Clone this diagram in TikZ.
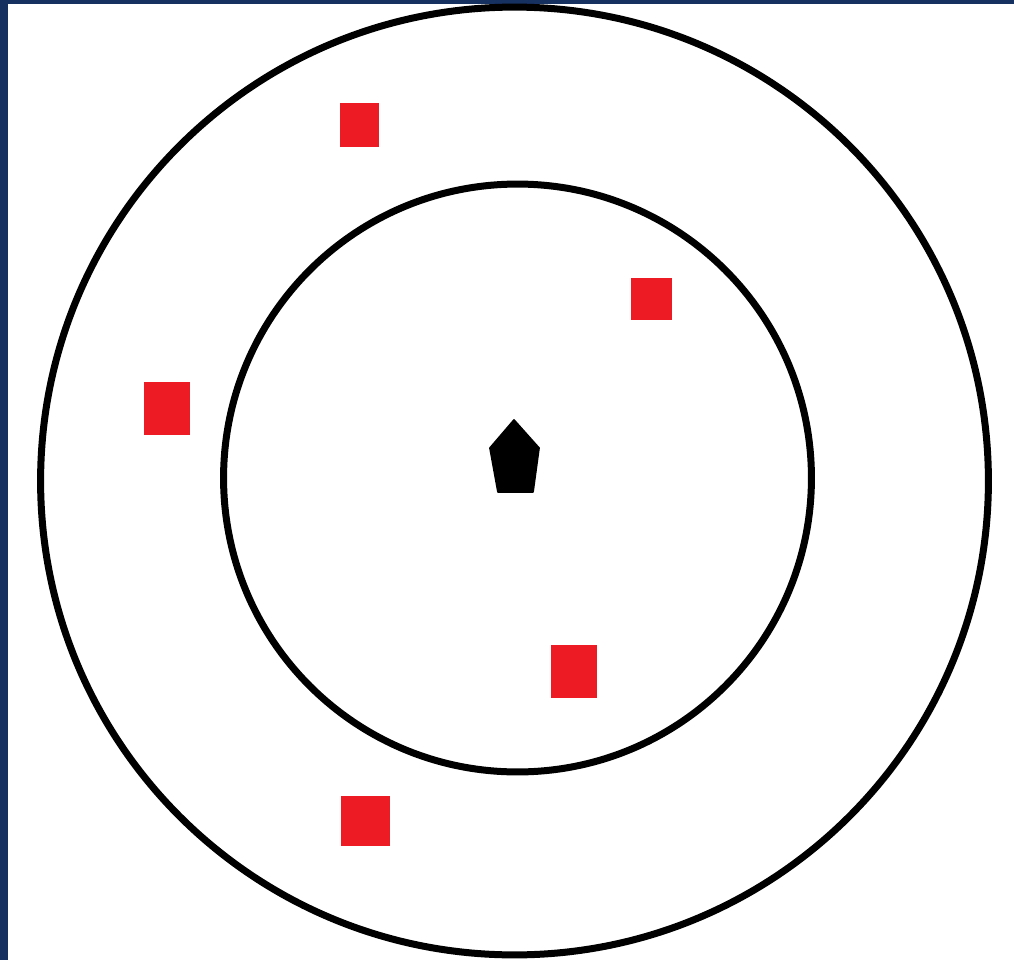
\documentclass[tikz,border=0pt]{standalone}
\usepackage{xcolor}
\usepackage{tikz}
\usetikzlibrary{positioning}

\definecolor{frameblue}{RGB}{22,48,95}
\definecolor{targetred}{RGB}{237,28,36}

\begin{document}
\begin{tikzpicture}[x=0.02cm, y=-0.02cm]
	% Styles
	\tikzstyle{ring} = [draw=black, line width=0.14cm]
	\tikzstyle{target} = [fill=targetred]
	\tikzstyle{robot} = [fill=black, line join=round, draw=black, line width=1pt]

	% Background
	\fill[frameblue] (0,0) rectangle (1014,960);
	\fill[white] (8,4) rectangle (1014,960);
	\useasboundingbox (0,0) rectangle (1014,960);

	% Rings
	\coordinate (outer) at (514.5,481);
	\coordinate (inner) at (517.5,478);
	\draw [ring] (outer) circle [radius=9.48cm];
	\draw [ring] (inner) circle [radius=5.88cm];

	% Targets
	\fill [target] (340,103) rectangle (379,147);
	\fill [target] (631,278) rectangle (672,320);
	\fill [target] (144,382) rectangle (190,435);
	\fill [target] (551,645) rectangle (597,698);
	\fill [target] (341,796) rectangle (390,846);

	% Centre marker
	\filldraw [robot] (514,420) -- (539,448) -- (533,492) -- (498,492) -- (490,448) -- cycle;
\end{tikzpicture}
\end{document}
